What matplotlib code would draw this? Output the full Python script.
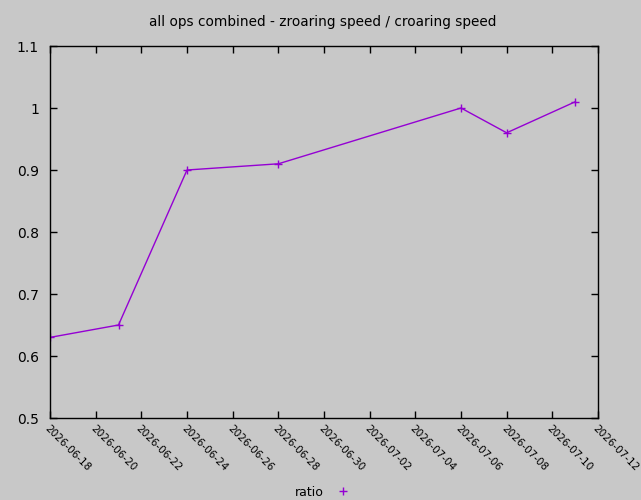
import matplotlib
matplotlib.use("Agg")
import matplotlib.pyplot as plt
import matplotlib.dates as mdates
from datetime import datetime

dates = ["2026-06-18", "2026-06-21", "2026-06-24", "2026-06-28", "2026-07-06", "2026-07-08", "2026-07-11"]
ratio = [0.63, 0.65, 0.90, 0.91, 1.00, 0.96, 1.01]
yticks = [0.5, 0.6, 0.7, 0.8, 0.9, 1.0, 1.1]
ytick_labels = ["0.5", "0.6", "0.7", "0.8", "0.9", "1", "1.1"]
xtick_dates = ["2026-06-18", "2026-06-20", "2026-06-22", "2026-06-24", "2026-06-26", "2026-06-28",
               "2026-06-30", "2026-07-02", "2026-07-04", "2026-07-06", "2026-07-08", "2026-07-10",
               "2026-07-12"]
title = "all ops combined - zroaring speed / croaring speed"

x = [datetime.strptime(d, "%Y-%m-%d") for d in dates]
ticks = [datetime.strptime(d, "%Y-%m-%d") for d in xtick_dates]

bg = "#c8c8c8"
fig = plt.figure(figsize=(6.41, 5.0), dpi=100, facecolor=bg)
ax = fig.add_axes([50/641, 1 - 418/500, (598-50)/641, (418-46)/500])
ax.set_facecolor(bg)

ax.plot(x, ratio, color="#9400d3", lw=1.0, marker="+", markersize=5.5, mew=1.0, label="ratio")

ax.set_xlim(ticks[0], ticks[-1])
ax.set_ylim(0.5, 1.1)
ax.set_yticks(yticks)
ax.set_yticklabels(ytick_labels, fontsize=10)
ax.set_xticks(ticks)
ax.xaxis.set_major_formatter(mdates.DateFormatter("%Y-%m-%d"))
for lab in ax.get_xticklabels():
    lab.set_rotation(-45)
    lab.set_ha("left")
    lab.set_va("top")
    lab.set_rotation_mode("anchor")
    lab.set_fontsize(7.5)

ax.tick_params(direction="in", length=5, width=1, top=True, right=True, colors="black")
ax.tick_params(axis="x", pad=4)
ax.tick_params(axis="y", pad=8)
for s in ax.spines.values():
    s.set_linewidth(1.0)
    s.set_color("black")

fig.text(323/641, 1 - 22/500, title, ha="center", va="center", fontsize=9.8)

leg = fig.legend(loc="center", bbox_to_anchor=(324/641, 1 - 492/500), frameon=False,
                 fontsize=9, markerfirst=False, handlelength=1.5, handletextpad=0.8)
leg.get_lines()[0].set_linestyle("none")

fig.savefig("out.png", dpi=100, facecolor=bg)
